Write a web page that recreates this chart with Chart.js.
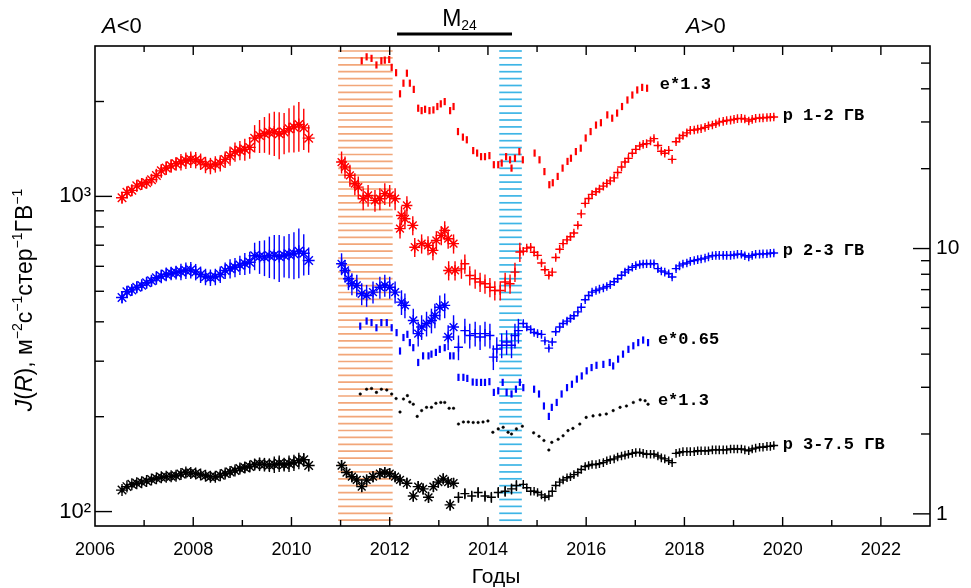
<!DOCTYPE html>
<html><head><meta charset="utf-8">
<script src="https://cdn.jsdelivr.net/npm/chart.js@4.4.1/dist/chart.umd.min.js"></script>
<style>html,body{margin:0;padding:0;background:#fff}</style>
</head><body>
<canvas id="c" width="971" height="588"></canvas>
<script>
// ---------- axis ranges / ticks ----------
const xRange = [2006, 2023];
const leftRange = [90, 3000];
const rightRange = [0.9, 58];
const leftTickVals = [100,200,300,400,500,600,700,800,900,1000,2000,3000];
const leftTickLabels = {100:'10²', 1000:'10³'};
const rightTickVals = [1,2,3,4,5,6,7,8,9,10,20,30,40,50];
const rightTickLabels = {1:'1', 10:'10'};

// ---------- period 1 (2006-2010) protons ----------
const tP1 = [2006.55,2006.65,2006.75,2006.85,2006.95,2007.05,2007.15,2007.25,2007.35,2007.45,2007.55,2007.65,2007.75,2007.85,2007.95,2008.05,2008.15,2008.25,2008.35,2008.45,2008.55,2008.65,2008.75,2008.85,2008.95,2009.05,2009.15,2009.25,2009.35,2009.45,2009.55,2009.65,2009.75,2009.85,2009.95,2010.05,2010.15,2010.25,2010.35];
const redP1 = [990,1030,1045,1080,1095,1105,1130,1165,1205,1230,1250,1270,1285,1300,1310,1305,1290,1260,1250,1265,1275,1310,1345,1385,1400,1410,1430,1530,1560,1580,1595,1600,1580,1600,1640,1660,1690,1650,1530];
const blueP1 = [478,498,505,515,522,532,540,552,558,566,570,574,577,582,584,576,565,556,553,556,565,582,590,596,606,612,618,648,645,642,648,650,645,650,655,658,670,660,626];
const blackP1 = [117,120,122,123,124,125,126.5,127.5,128.5,129,129.5,130,131.5,133,132.5,132,131,130,129,129,130.5,132,133.5,135,137,138,139,141,141.5,141,140.5,141,142,141,142,143,145,146,140];
const errRB1 = [4,4,4,4,4,4,4,5,5,5,5,5,6,6,6,6,6,6,6,6,6,6,7,7,7,8,8,10,12,13,15,16,17,15,16,17,18,15,10];
const errK1 = [2,2,2,2,2,2,2,2,2,2,3,3,3,3,3,3,3,3,3,3,3,3,3,3,3,4,4,4,5,5,5,6,6,5,6,6,6,5,4];

// ---------- period 2 (2011-2014.7) protons ----------
const tRedP2 = [2011.02,2011.09,2011.19,2011.29,2011.36,2011.46,2011.56,2011.70,2011.80,2011.90,2012.00,2012.11,2012.21,2012.24,2012.31,2012.35,2012.47,2012.51,2012.65,2012.78,2012.88,2012.95,2013.05,2013.12,2013.19,2013.30,2013.20,2013.33,2013.46,2013.53,2013.63,2013.74,2013.84,2013.94,2014.04,2014.14,2014.25,2014.35,2014.45,2014.55,2014.65];
const vRedP2 = [1285,1239,1166,1097,1070,983,1007,971,983,1020,1007,983,790,870,849,936,809,690,708,699,674,725,752,780,734,708,582,582,589,611,561,548,535,528,515,503,503,535,528,575,666];
const tBlueP2 = [2011.02,2011.09,2011.16,2011.23,2011.33,2011.43,2011.53,2011.66,2011.80,2011.90,2012.00,2012.11,2012.24,2012.31,2012.48,2012.58,2012.65,2012.75,2012.85,2012.92,2013.02,2013.12,2013.19,2013.30,2013.40,2013.53,2013.63,2013.74,2013.84,2013.94,2014.04,2014.11,2014.18,2014.28,2014.38,2014.48,2014.55,2014.62];
const vBlueP2 = [611,582,548,528,522,491,485,497,515,522,515,497,462,451,404,367,385,395,404,419,445,451,358,385,332,375,362,367,358,367,362,309,328,337,345,337,362,375];
const tBlackP2 = [2011.02,2011.12,2011.23,2011.33,2011.43,2011.53,2011.66,2011.80,2011.90,2012.00,2012.11,2012.21,2012.35,2012.48,2012.58,2012.68,2012.79,2012.89,2012.99,2013.09,2013.19,2013.23,2013.30,2013.40,2013.53,2013.67,2013.80,2013.94,2014.07,2014.21,2014.35,2014.48,2014.58];
const vBlackP2 = [140,133,129,126,120,126,129,132,133,132,129,126,123,112,120,118,111,120,124,127,124,105,123,111,114,112,115,112,111,115,116,118,121];
// relative error (%) by period: [from, to, pct]
const errSegRedP2 = [[2011.0,2012.15,8],[2012.15,2014.7,7]];
const errSegBlueP2 = [[2011.0,2012.15,8],[2012.15,2014.7,9]];
const errSegBlackP2 = [[2011.0,2014.7,4]];

// ---------- period 3 (2014.7-2019.9) protons, one point per rotation ----------
const tP3 = [2014.72,2014.79,2014.87,2014.94,
  2015.01,2015.09,2015.16,2015.24,2015.31,2015.38,2015.46,2015.53,2015.61,2015.68,2015.75,2015.83,2015.90,2015.98,
  2016.05,2016.12,2016.20,2016.27,2016.35,2016.42,2016.49,2016.57,2016.64,2016.72,2016.79,2016.86,2016.94,
  2017.01,2017.09,2017.16,2017.23,2017.31,2017.38,2017.46,2017.53,2017.60,2017.68,2017.75,2017.83,2017.90,2017.97,
  2018.05,2018.12,2018.20,2018.27,2018.34,2018.42,2018.49,2018.57,2018.64,2018.71,2018.79,2018.86,2018.94,
  2019.01,2019.08,2019.16,2019.23,2019.31,2019.38,2019.45,2019.53,2019.60,2019.68,2019.75,2019.82];
const redP3 = [670,685,690,665,
  650,615,585,562,575,640,680,708,728,745,765,810,880,950,
  985,1015,1035,1055,1078,1100,1120,1145,1190,1240,1285,1320,1370,
  1410,1445,1462,1470,1500,1525,1450,1390,1370,1400,1310,1490,1530,1560,
  1590,1620,1625,1635,1640,1655,1675,1685,1700,1720,1730,1740,1745,
  1755,1765,1768,1760,1735,1755,1768,1772,1775,1780,1782,1785];
const blueP3 = [395,385,378,370,
  367,365,348,330,345,372,385,395,402,410,418,430,445,470,
  485,497,503,508,512,518,525,536,548,562,575,585,596,
  603,608,610,611,611,611,590,580,575,568,555,590,602,610,
  615,622,626,630,633,637,643,648,650,650,650,650,650,
  652,655,655,648,642,650,655,656,657,658,660,661];
const blackP3 = [122,119,116,116,
  115,113,111,112,116,121,124,126,128,129,131,133,136,139,
  140,141,141,142,143,145,146,147,149,150,151,152,153,
  154,154,153,152,152,152,150,148,147,145,143,153,154,155,
  155,155,155,156,156,156,156,157,157,157,157,157,158,
  158,158,158,157,156,158,159,160,160,161,161,162];
const errP3 = 1.5;

// ---------- electrons (right axis) ----------
const tRedE = [2011.43,2011.53,2011.63,2011.73,2011.83,2011.90,2011.99,2012.04,2012.13,2012.21,2012.28,2012.35,2012.41,2012.49,2012.58,2012.65,2012.72,2012.81,2012.89,2012.97,2013.04,2013.12,2013.23,2013.30,2013.39,2013.49,2013.57,2013.70,2013.78,2013.86,2013.94,2014.03,2014.12,2014.21,2014.28,2014.37,2014.45,2014.48,2014.55,2014.64,2014.71,2014.95,2015.05,2015.15,2015.25,2015.32,2015.42,2015.52,2015.62,2015.69,2015.79,2015.89,2015.99,2016.09,2016.20,2016.30,2016.43,2016.53,2016.63,2016.73,2016.84,2016.94,2017.04,2017.14,2017.24];
const vRedE = [51.0,52.8,52.1,49.2,51.0,51.3,51.6,48.2,46.0,38.3,42.0,45.8,42.0,39.8,33.8,33.1,33.5,33.1,33.3,34.3,35.1,35.8,33.1,34.3,27.6,26.3,25.7,23.4,22.9,22.2,22.2,22.4,20.7,20.7,21.0,22.2,21.6,20.1,21.9,23.2,21.6,22.9,21.6,19.5,17.4,17.7,18.7,20.1,21.3,21.9,23.2,23.9,26.1,27.6,29.2,29.8,31.9,31.0,32.4,34.3,36.3,37.9,39.6,40.5,40.2];
const tBlueE = [2011.40,2011.53,2011.63,2011.73,2011.83,2011.94,2012.04,2012.14,2012.21,2012.28,2012.36,2012.41,2012.48,2012.58,2012.68,2012.79,2012.85,2012.94,2013.02,2013.12,2013.23,2013.30,2013.40,2013.50,2013.58,2013.69,2013.77,2013.86,2013.94,2014.03,2014.12,2014.21,2014.30,2014.38,2014.48,2014.57,2014.65,2014.72,2014.94,2015.04,2015.14,2015.24,2015.30,2015.40,2015.50,2015.61,2015.71,2015.81,2015.91,2016.01,2016.11,2016.21,2016.35,2016.48,2016.55,2016.65,2016.75,2016.86,2016.96,2017.06,2017.16,2017.26];
const vBlueE = [5.10,5.33,5.26,5.03,5.26,5.26,5.03,4.82,4.11,4.62,4.75,4.42,4.23,3.72,3.94,3.94,4.00,4.06,4.17,4.23,3.94,3.94,3.27,3.27,3.24,3.14,3.13,3.13,3.13,3.15,2.87,2.91,3.13,2.87,2.83,2.95,3.13,2.99,2.95,2.83,2.55,2.33,2.52,2.63,2.83,2.99,3.08,3.22,3.31,3.46,3.56,3.63,3.66,3.72,3.61,3.83,4.00,4.17,4.30,4.42,4.52,4.42];
const tBlackE = [2011.40,2011.53,2011.63,2011.73,2011.83,2011.94,2012.04,2012.13,2012.21,2012.28,2012.36,2012.41,2012.48,2012.56,2012.65,2012.75,2012.85,2012.94,2013.04,2013.12,2013.21,2013.30,2013.40,2013.50,2013.60,2013.70,2013.80,2013.90,2014.00,2014.10,2014.21,2014.31,2014.41,2014.48,2014.58,2014.70,2014.93,2015.04,2015.14,2015.24,2015.30,2015.43,2015.53,2015.63,2015.73,2015.87,2016.00,2016.14,2016.28,2016.41,2016.55,2016.69,2016.82,2016.96,2017.10,2017.20,2017.26];
const vBlackE = [2.83,2.95,2.97,2.87,2.95,2.93,2.83,2.72,2.42,2.71,2.79,2.64,2.59,2.33,2.45,2.52,2.52,2.61,2.63,2.63,2.50,2.50,2.18,2.22,2.22,2.21,2.21,2.22,2.24,2.03,2.09,2.12,2.03,2.00,2.09,2.14,2.02,1.96,1.89,1.74,1.86,1.91,1.97,2.06,2.10,2.18,2.31,2.34,2.36,2.38,2.45,2.52,2.55,2.63,2.69,2.67,2.59];

// ---------- shaded periods / annotations ----------
const bands = [
  {from: 2010.95, to: 2012.06, color: '#F2A679'},
  {from: 2014.23, to: 2014.69, color: '#3DB5E6'}
];
const m24Range = [2012.15, 2014.49];
const seriesLabels = [
  {text: 'e*1.3',      x: 2017.50, y: 41.4, axis: 'yR'},
  {text: 'p 1-2 ГВ',   x: 2020.00, y: 1808, axis: 'y'},
  {text: 'p 2-3 ГВ',   x: 2020.00, y: 674,  axis: 'y'},
  {text: 'e*0.65',     x: 2017.46, y: 4.55, axis: 'yR'},
  {text: 'e*1.3',      x: 2017.46, y: 2.66, axis: 'yR'},
  {text: 'p 3-7.5 ГВ', x: 2020.00, y: 163,  axis: 'y'}
];

// ---------- helpers ----------
const zip = (t, v) => t.map((x, i) => ({x: x, y: v[i]}));
const segPct = (segs, t) => { for (const s of segs) if (t >= s[0] && t < s[1]) return s[2]; return 0; };
const RED = '#FF0000', BLUE = '#0000FF', BLACK = '#000000';

const errors = {
  redP1: errRB1, blueP1: errRB1, blackP1: errK1,
  redP2: tRedP2.map(t => segPct(errSegRedP2, t)),
  blueP2: tBlueP2.map(t => segPct(errSegBlueP2, t)),
  blackP2: tBlackP2.map(t => segPct(errSegBlackP2, t)),
  redP3: tP3.map(() => errP3), blueP3: tP3.map(() => errP3), blackP3: tP3.map(() => errP3 * 0.6)
};

const p2Style = c => (c.raw && c.raw.x < 2013.4) ? 'star' : 'cross';
const p2Radius = c => (c.raw && c.raw.x < 2013.4) ? 5.5 : 4.5;

function protonSet(label, data, color, style, radius) {
  return {label, data, yAxisID: 'y', showLine: false,
    borderColor: color, backgroundColor: color,
    pointStyle: style, pointRadius: radius,
    pointBorderWidth: 1.4, pointHoverRadius: 0};
}
function electronSet(label, data, color, dots) {
  return {label, data, yAxisID: 'yR', showLine: false,
    borderColor: color, backgroundColor: color,
    pointStyle: dots ? 'circle' : 'line', rotation: dots ? 0 : 90,
    pointRadius: dots ? 1.3 : 3.6, pointBorderWidth: dots ? 0.5 : 2.2, pointHoverRadius: 0};
}

const datasets = [
  protonSet('redP1', zip(tP1, redP1), RED, 'star', 6),
  protonSet('blueP1', zip(tP1, blueP1), BLUE, 'star', 6),
  protonSet('blackP1', zip(tP1, blackP1), BLACK, 'star', 6),
  protonSet('redP2', zip(tRedP2, vRedP2), RED, p2Style, p2Radius),
  protonSet('blueP2', zip(tBlueP2, vBlueP2), BLUE, p2Style, p2Radius),
  protonSet('blackP2', zip(tBlackP2, vBlackP2), BLACK, p2Style, p2Radius),
  protonSet('redP3', zip(tP3, redP3), RED, 'cross', 4.3),
  protonSet('blueP3', zip(tP3, blueP3), BLUE, 'cross', 4.3),
  protonSet('blackP3', zip(tP3, blackP3), BLACK, 'cross', 4.3),
  electronSet('redE', zip(tRedE, vRedE), RED, false),
  electronSet('blueE', zip(tBlueE, vBlueE), BLUE, false),
  electronSet('blackE', zip(tBlackE, vBlackE), BLACK, true)
];

function line(ctx, x0, y0, x1, y1) { ctx.beginPath(); ctx.moveTo(x0, y0); ctx.lineTo(x1, y1); ctx.stroke(); }

function drawPieces(ctx, pieces, x, y, align) {
  // pieces: [text, font, dy]
  let total = 0;
  pieces.forEach(p => { ctx.font = p[1]; total += ctx.measureText(p[0]).width; });
  let cx = align === 'center' ? x - total / 2 : x;
  pieces.forEach(p => { ctx.font = p[1]; ctx.fillText(p[0], cx, y + (p[2] || 0)); cx += ctx.measureText(p[0]).width; });
}

const SANS = '"Liberation Sans", Arial, sans-serif';

const decor = {
  id: 'decor',
  beforeDatasetsDraw(chart) {
    const {ctx, chartArea: a, scales} = chart;
    const xs = scales.x;
    ctx.save();
    ctx.beginPath(); ctx.rect(a.left, a.top, a.right - a.left, a.bottom - a.top); ctx.clip();
    bands.forEach(b => {
      const x0 = xs.getPixelForValue(b.from), x1 = xs.getPixelForValue(b.to);
      ctx.strokeStyle = b.color; ctx.lineWidth = 1.7;
      for (let y = a.top + 5; y < a.bottom; y += 6.9) line(ctx, x0, y, x1, y);
    });
    chart.data.datasets.forEach(ds => {
      const errs = errors[ds.label];
      if (!errs) return;
      const ys = scales[ds.yAxisID];
      ctx.strokeStyle = ds.borderColor; ctx.lineWidth = 1.4;
      ds.data.forEach((p, j) => {
        const e = (errs[j] || 0) / 100;
        if (!e) return;
        const px = xs.getPixelForValue(p.x);
        line(ctx, px, ys.getPixelForValue(p.y * (1 + e)), px, ys.getPixelForValue(p.y * (1 - e)));
      });
    });
    ctx.restore();
  },
  afterDraw(chart) {
    const {ctx, chartArea: a, scales} = chart;
    const xs = scales.x, yl = scales.y, yr = scales.yR;
    ctx.save();
    ctx.strokeStyle = '#000'; ctx.lineWidth = 1.6;
    ctx.strokeRect(a.left, a.top, a.right - a.left, a.bottom - a.top);
    ctx.lineWidth = 1.4;
    for (let yv = xRange[0] + 1; yv < xRange[1]; yv++) {
      const px = xs.getPixelForValue(yv), L = yv % 2 === 0 ? 9 : 6;
      line(ctx, px, a.bottom, px, a.bottom - L);
      line(ctx, px, a.top, px, a.top + L);
    }
    leftTickVals.forEach(v => {
      const py = yl.getPixelForValue(v), L = leftTickLabels[v] ? 17 : 9;
      if (py > a.top + 1 && py < a.bottom - 1) line(ctx, a.left, py, a.left + L, py);
    });
    rightTickVals.forEach(v => {
      const py = yr.getPixelForValue(v), L = rightTickLabels[v] ? 17 : 9;
      if (py > a.top + 1 && py < a.bottom - 1) line(ctx, a.right, py, a.right - L, py);
    });
    // series labels
    ctx.fillStyle = '#000'; ctx.textBaseline = 'middle'; ctx.textAlign = 'left';
    ctx.font = 'bold 17px "Liberation Mono", "DejaVu Sans Mono", monospace';
    seriesLabels.forEach(s => {
      ctx.fillText(s.text, xs.getPixelForValue(s.x), scales[s.axis].getPixelForValue(s.y));
    });
    // top annotations
    ctx.textBaseline = 'alphabetic';
    const F = '22px ' + SANS, FI = 'italic 22px ' + SANS;
    drawPieces(ctx, [['A', FI], ['<0', F]], 102, 33, 'left');
    drawPieces(ctx, [['A', FI], ['>0', F]], 686, 33, 'left');
    const m0 = xs.getPixelForValue(m24Range[0]), m1 = xs.getPixelForValue(m24Range[1]);
    drawPieces(ctx, [['M', '23px ' + SANS], ['24', '14px ' + SANS, 4]], (m0 + m1) / 2 + 5, 26, 'center');
    ctx.lineWidth = 3; line(ctx, m0, 34, m1, 34);
    // x title
    drawPieces(ctx, [['Годы', '21px ' + SANS]], 496, 583, 'center');
    // y title
    ctx.translate(24, 300); ctx.rotate(-Math.PI / 2);
    const Y = '23px ' + SANS, YI = 'italic 23px ' + SANS, S = '14px ' + SANS;
    drawPieces(ctx, [['J', YI], ['(', Y], ['R', YI], ['), м', Y], ['−2', S, -10], ['с', Y], ['−1', S, -10], ['стер', Y], ['−1', S, -10], ['ГВ', Y], ['−1', S, -10]], 0, 8, 'center');
    ctx.restore();
  }
};

new Chart(document.getElementById('c'), {
  type: 'scatter',
  data: {datasets},
  plugins: [decor],
  options: {
    responsive: false, animation: false, devicePixelRatio: 1,
    layout: {padding: {top: 46, left: 0, right: 0, bottom: 0}},
    plugins: {legend: {display: false}, tooltip: {enabled: false}},
    scales: {
      x: {
        type: 'linear', min: xRange[0], max: xRange[1],
        grid: {display: false, drawTicks: false}, border: {display: false},
        afterFit: s => { s.height = 62; },
        ticks: {stepSize: 1, autoSkip: false, maxRotation: 0, padding: 13, color: '#000',
          font: {family: SANS, size: 18},
          callback: v => (v % 2 === 0 && v < xRange[1]) ? String(v) : ''}
      },
      y: {
        type: 'logarithmic', position: 'left', min: leftRange[0], max: leftRange[1],
        grid: {display: false, drawTicks: false}, border: {display: false},
        afterFit: s => { s.width = 95; },
        afterBuildTicks: s => { s.ticks = leftTickVals.map(v => ({value: v})); },
        ticks: {autoSkip: false, padding: 4, color: '#000',
          font: {family: SANS, size: 22},
          callback: v => leftTickLabels[v] || ''}
      },
      yR: {
        type: 'logarithmic', position: 'right', min: rightRange[0], max: rightRange[1],
        grid: {display: false, drawTicks: false}, border: {display: false},
        afterFit: s => { s.width = 41; },
        afterBuildTicks: s => { s.ticks = rightTickVals.map(v => ({value: v})); },
        ticks: {autoSkip: false, padding: 6, color: '#000',
          font: {family: SANS, size: 21},
          callback: v => rightTickLabels[v] || ''}
      }
    }
  }
});
</script>
</body></html>
